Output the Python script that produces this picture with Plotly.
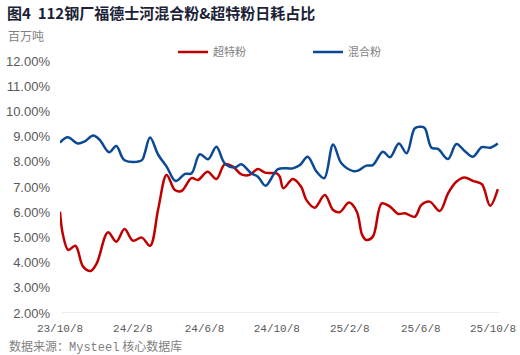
import plotly.graph_objects as go

# 混合粉 (blue)
blend_dates = ["2023-10-08", "2023-10-21", "2023-11-07", "2023-11-18", "2023-12-03", "2023-12-14",
               "2023-12-30", "2024-01-11", "2024-01-25", "2024-02-23", "2024-02-28", "2024-03-08",
               "2024-03-22", "2024-04-05", "2024-04-20", "2024-05-06", "2024-05-17", "2024-05-31",
               "2024-06-14", "2024-06-28", "2024-07-12", "2024-07-29", "2024-08-09", "2024-08-26",
               "2024-09-06", "2024-09-19", "2024-10-10", "2024-11-04", "2024-11-16", "2024-11-29",
               "2024-12-14", "2024-12-27", "2025-01-11", "2025-01-25", "2025-02-14", "2025-02-22",
               "2025-03-08", "2025-03-19", "2025-04-05", "2025-04-17", "2025-05-02", "2025-05-15",
               "2025-05-29", "2025-06-09", "2025-06-15", "2025-06-26", "2025-07-07", "2025-07-24",
               "2025-08-07", "2025-08-21", "2025-09-04", "2025-09-19", "2025-10-03", "2025-10-16"]
blend_values = [8.76, 8.97, 8.73, 8.80, 9.04, 8.87,
                8.38, 8.63, 8.06, 8.06, 8.34, 8.96,
                8.27, 7.81, 7.24, 7.52, 7.54, 8.30,
                8.10, 8.60, 7.94, 7.77, 7.90, 7.54,
                7.41, 7.05, 7.71, 7.74, 7.87, 8.20,
                7.61, 7.35, 8.69, 7.94, 7.63, 7.65,
                7.85, 7.87, 8.40, 8.18, 8.73, 8.34,
                9.33, 9.39, 9.33, 8.56, 8.51, 8.11,
                8.71, 8.43, 8.20, 8.58, 8.56, 8.73]

# 超特粉 (red)
super_dates = ["2023-10-08", "2023-10-13", "2023-10-22", "2023-11-03", "2023-11-16", "2023-11-29",
               "2023-12-09", "2023-12-28", "2024-01-11", "2024-01-25", "2024-02-08", "2024-02-23",
               "2024-03-08", "2024-03-22", "2024-04-05", "2024-04-19", "2024-04-30", "2024-05-17",
               "2024-05-28", "2024-06-13", "2024-06-28", "2024-07-12", "2024-07-26", "2024-08-09",
               "2024-08-23", "2024-09-06", "2024-09-18", "2024-10-08", "2024-10-13", "2024-10-19",
               "2024-11-04", "2024-11-18", "2024-11-27", "2024-12-11", "2024-12-28", "2025-01-11",
               "2025-01-22", "2025-02-07", "2025-02-20", "2025-03-01", "2025-03-08", "2025-03-19",
               "2025-04-03", "2025-04-17", "2025-05-01", "2025-05-12", "2025-05-29", "2025-06-09",
               "2025-06-23", "2025-07-10", "2025-07-24", "2025-08-07", "2025-08-21", "2025-09-04",
               "2025-09-19", "2025-10-03", "2025-10-16"]
super_values = [6.02, 5.10, 4.50, 4.67, 3.84, 3.67,
                3.97, 5.20, 4.83, 5.33, 4.87, 4.99,
                4.67, 6.16, 7.48, 6.88, 6.84, 7.35,
                7.28, 7.61, 7.32, 7.90, 7.81, 7.50,
                7.48, 7.71, 7.57, 7.54, 7.41, 6.95,
                7.32, 7.01, 6.48, 6.18, 6.68, 6.09,
                6.00, 6.38, 6.02, 5.10, 4.90, 5.03,
                6.35, 6.22, 5.93, 5.96, 5.82, 6.29,
                6.42, 6.05, 6.75, 7.21, 7.38, 7.24,
                7.11, 6.26, 6.92]

x_tick_vals = ["2023-10-08", "2024-02-08", "2024-06-08", "2024-10-08", "2025-02-08", "2025-06-08", "2025-10-08"]
x_tick_text = ["23/10/8", "24/2/8", "24/6/8", "24/10/8", "25/2/8", "25/6/8", "25/10/8"]
y_tick_vals = [2, 3, 4, 5, 6, 7, 8, 9, 10, 11, 12]
y_tick_text = ["2.00%", "3.00%", "4.00%", "5.00%", "6.00%", "7.00%", "8.00%", "9.00%", "10.00%", "11.00%", "12.00%"]

RED = "#C00000"
BLUE = "#0B4A93"
GREY = "#595959"

fig = go.Figure()
fig.add_trace(go.Scatter(x=super_dates, y=super_values, name="超特粉", mode="lines", legend="legend",
                         line=dict(color=RED, width=2.5, shape="spline", smoothing=1.0)))
fig.add_trace(go.Scatter(x=blend_dates, y=blend_values, name="混合粉", mode="lines", legend="legend2",
                         line=dict(color=BLUE, width=2.5, shape="spline", smoothing=1.0)))

L, R, T, B = 60, 21, 61, 42
W, H = 520, 355
pw, ph = W - L - R, H - T - B

def px(x):
    return (x - L) / pw

def py(y):
    return (H - B - y) / ph

legend_font = dict(family="Noto Sans CJK SC", size=11, color="#7F7F7F")

fig.update_layout(
    width=W, height=H,
    margin=dict(l=L, r=R, t=T, b=B, pad=0, autoexpand=False),
    paper_bgcolor="white", plot_bgcolor="white",
    font=dict(family="Liberation Sans, Noto Sans CJK SC", color=GREY),
    title=dict(text="图4  112钢厂福德士河混合粉&超特粉日耗占比",
               font=dict(family="Noto Sans CJK SC", size=15, color="#1B2236", weight="bold"),
               xref="container", yref="container", x=7 / W, y=1 - 14 / H,
               xanchor="left", yanchor="middle"),
    showlegend=True,
    legend=dict(xref="container", yref="container", x=173 / W, y=1 - 52 / H,
                xanchor="left", yanchor="middle", font=legend_font,
                bgcolor="rgba(0,0,0,0)", borderwidth=0, itemwidth=30),
    legend2=dict(xref="container", yref="container", x=308 / W, y=1 - 52 / H,
                 xanchor="left", yanchor="middle", font=legend_font,
                 bgcolor="rgba(0,0,0,0)", borderwidth=0, itemwidth=30),
    xaxis=dict(type="date", range=["2023-10-08", "2025-10-18"], automargin=False,
               tickvals=x_tick_vals, ticktext=x_tick_text, ticklabelstandoff=7,
               tickfont=dict(family="Liberation Mono", size=11, color=GREY),
               showgrid=False, zeroline=False, showline=False, ticks="", ticklen=0),
    yaxis=dict(range=[2, 12], tickvals=y_tick_vals, ticktext=y_tick_text, automargin=False,
               tickfont=dict(family="Liberation Sans", size=13, color=GREY),
               showgrid=False, zeroline=False, showline=False, ticks="", ticklabelstandoff=9),
    annotations=[
        dict(text="百万吨", xref="paper", yref="paper", x=px(6), y=py(36),
             xanchor="left", yanchor="middle", showarrow=False,
             font=dict(family="Noto Sans CJK SC", size=12, color="#7F7F7F")),
        dict(text="数据来源：<span style=\"font-family:'Liberation Mono'\">Mysteel</span> 核心数据库",
             xref="paper", yref="paper", x=px(7), y=py(346),
             xanchor="left", yanchor="middle", showarrow=False,
             font=dict(family="Noto Sans CJK SC", size=12, color="#7F7F7F")),
    ],
    shapes=[dict(type="line", xref="paper", yref="y", x0=px(62), x1=px(499), y0=2, y1=2,
                 line=dict(color="#D9D9D9", width=1), layer="below")],
)

fig.write_html("out.html", config={"displayModeBar": False},
               post_script="document.body.style.margin='0px';document.body.style.padding='0px';")
